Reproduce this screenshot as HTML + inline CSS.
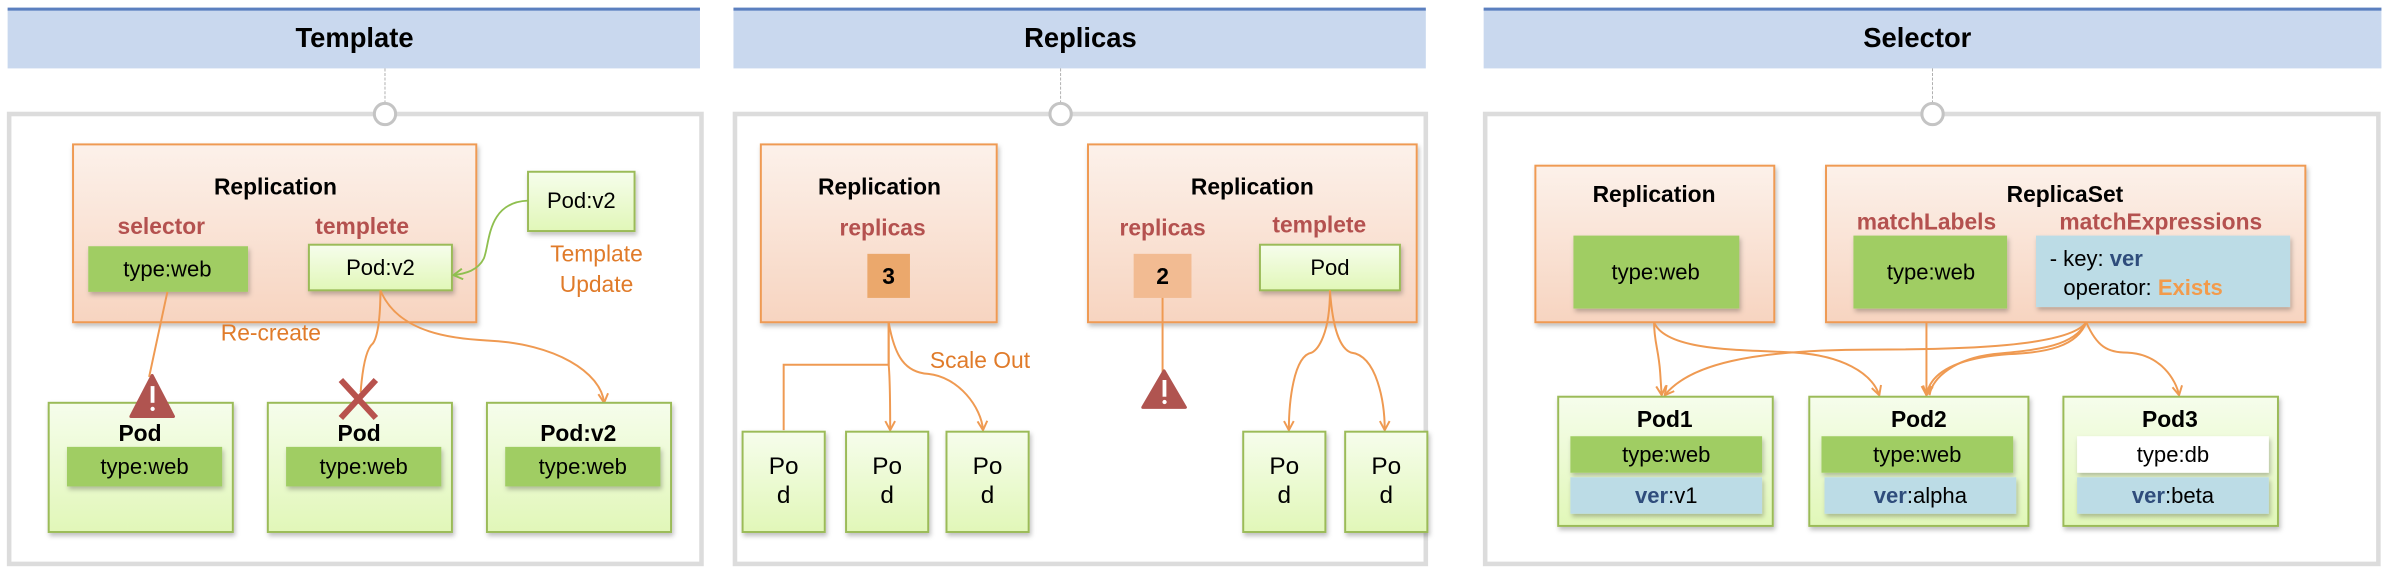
<!DOCTYPE html>
<html><head><meta charset="utf-8"><style>
html,body{margin:0;padding:0;background:#fff;}
svg{display:block;}
text{font-family:"Liberation Sans",sans-serif;}
.t{font-weight:bold;font-size:18px;text-anchor:middle;}
.h{font-weight:bold;font-size:15px;text-anchor:middle;}
.r{font-weight:bold;font-size:15px;fill:#b4514f;text-anchor:middle;}
.n{font-size:14.5px;text-anchor:middle;}
.o{font-size:15px;fill:#e07b2a;text-anchor:middle;}
.c{fill:none;stroke:#ef9a52;stroke-width:1.3;}
</style></head><body>
<svg width="2386" height="570" viewBox="0 0 1568 375" preserveAspectRatio="none" xmlns="http://www.w3.org/2000/svg">
<defs>
<linearGradient id="rep" x1="0" y1="0" x2="0" y2="1"><stop offset="0" stop-color="#fcf1ea"/><stop offset="1" stop-color="#f7d4c0"/></linearGradient>
<linearGradient id="pod" x1="0" y1="0" x2="0" y2="1"><stop offset="0" stop-color="#f6fdec"/><stop offset="1" stop-color="#e1f7b8"/></linearGradient>
<marker id="a" markerWidth="8" markerHeight="8" refX="7" refY="4" orient="auto" markerUnits="userSpaceOnUse"><path d="M1,0.8 L7,4 L1,7.2" fill="none" stroke="#ef9a52" stroke-width="1.3"/></marker>
<marker id="ag" markerWidth="8" markerHeight="8" refX="7" refY="4" orient="auto" markerUnits="userSpaceOnUse"><path d="M1,0.5 L7,4 L1,7.5" fill="none" stroke="#8fbf4f" stroke-width="1.3"/></marker>
<filter id="sh" x="-10%" y="-10%" width="130%" height="140%"><feDropShadow dx="1" dy="2" stdDeviation="1.5" flood-color="#000" flood-opacity="0.25"/></filter>
</defs>

<g>
<rect x="5" y="6" width="455" height="39" fill="#c9d8ee"/><rect x="5" y="5" width="455" height="2" fill="#5b7fbf"/>
<text class="t" x="233" y="31">Template</text>
<rect x="482" y="6" width="455" height="39" fill="#c9d8ee"/><rect x="482" y="5" width="455" height="2" fill="#5b7fbf"/>
<text class="t" x="710" y="31">Replicas</text>
<rect x="975" y="6" width="590" height="39" fill="#c9d8ee"/><rect x="975" y="5" width="590" height="2" fill="#5b7fbf"/>
<text class="t" x="1260" y="31">Selector</text>
</g>

<g fill="none" stroke="#dcdcdc" stroke-width="3">
<rect x="6" y="75" width="455" height="296"/>
<rect x="483" y="75" width="454" height="296"/>
<rect x="976" y="75" width="587" height="296"/>
</g>
<g stroke="#aaa" stroke-width="0.6" stroke-dasharray="2,1">
<line x1="253" y1="45" x2="253" y2="68"/><line x1="697" y1="45" x2="697" y2="68"/><line x1="1270" y1="45" x2="1270" y2="68"/>
</g>
<g fill="#fff" stroke="#c4c4c4" stroke-width="2">
<circle cx="253" cy="75" r="7"/><circle cx="697" cy="75" r="7"/><circle cx="1270" cy="75" r="7"/>
</g>

<!-- Panel 1 -->
<rect x="48" y="95" width="265" height="117" fill="url(#rep)" stroke="#ef9a52" stroke-width="1.3" filter="url(#sh)"/>
<text class="h" x="181" y="128">Replication</text>
<text class="r" x="106" y="154">selector</text>
<text class="r" x="238" y="154">templete</text>
<rect x="58" y="162" width="105" height="30" fill="#a0cd63" filter="url(#sh)"/>
<text class="n" x="110" y="182">type:web</text>
<rect x="203" y="161" width="94" height="30" fill="url(#pod)" stroke="#9bbb59" stroke-width="1.3" filter="url(#sh)"/>
<text class="n" x="250" y="181">Pod:v2</text>
<rect x="347" y="113" width="70" height="39" fill="url(#pod)" stroke="#9bbb59" stroke-width="1.3" filter="url(#sh)"/>
<text class="n" x="382" y="137">Pod:v2</text>
<text class="o" x="392" y="172">Template</text>
<text class="o" x="392" y="192">Update</text>
<path d="M347,132 C320,133 322,160 318,170 C314,178 306,180 298,181" fill="none" stroke="#8fbf4f" stroke-width="1.2" marker-end="url(#ag)"/>
<text class="o" x="178" y="224">Re-create</text>
<path class="c" d="M110,192 L98,248"/>
<path class="c" d="M250,191 C250,210 248,222 245,226 C240,230 238,245 237,258"/>
<path class="c" d="M250,191 C262,220 300,223 320,224 C365,226 395,245 397,265" marker-end="url(#a)"/>
<g filter="url(#sh)">
<rect x="32" y="265" width="121" height="85" fill="url(#pod)" stroke="#9bbb59" stroke-width="1.3"/>
<rect x="176" y="265" width="121" height="85" fill="url(#pod)" stroke="#9bbb59" stroke-width="1.3"/>
<rect x="320" y="265" width="121" height="85" fill="url(#pod)" stroke="#9bbb59" stroke-width="1.3"/>
</g>
<text class="h" x="92" y="290">Pod</text><text class="h" x="236" y="290">Pod</text><text class="h" x="380" y="290">Pod:v2</text>
<g filter="url(#sh)" fill="#a0cd63">
<rect x="44" y="294" width="102" height="26"/><rect x="188" y="294" width="102" height="26"/><rect x="332" y="294" width="102" height="26"/>
</g>
<text class="n" x="95" y="312">type:web</text><text class="n" x="239" y="312">type:web</text><text class="n" x="383" y="312">type:web</text>
<path d="M100,247 L114,274 L86,274 Z" fill="#b05450" stroke="#b05450" stroke-width="2" stroke-linejoin="round"/>
<rect x="99" y="254" width="2.5" height="11" fill="#fff"/><circle cx="100.3" cy="269" r="1.4" fill="#fff"/>
<path d="M224,250 L247,275 M247,250 L224,275" stroke="#b8524d" stroke-width="4"/>

<!-- Panel 2 -->
<rect x="500" y="95" width="155" height="117" fill="url(#rep)" stroke="#ef9a52" stroke-width="1.3" filter="url(#sh)"/>
<text class="h" x="578" y="128">Replication</text>
<text class="r" x="580" y="155">replicas</text>
<rect x="570" y="167" width="28" height="29" fill="#eba86c"/>
<text class="h" x="584" y="187">3</text>
<rect x="715" y="95" width="216" height="117" fill="url(#rep)" stroke="#ef9a52" stroke-width="1.3" filter="url(#sh)"/>
<text class="h" x="823" y="128">Replication</text>
<text class="r" x="764" y="155">replicas</text>
<text class="r" x="867" y="153">templete</text>
<rect x="745" y="167" width="38" height="29" fill="#f2bb92"/>
<text class="h" x="764" y="187">2</text>
<rect x="828" y="161" width="92" height="30" fill="url(#pod)" stroke="#9bbb59" stroke-width="1.3" filter="url(#sh)"/>
<text class="n" x="874" y="181">Pod</text>
<path class="c" d="M584,212 L584,240 L515,240 L515,283"/>
<path class="c" d="M584,212 L584,240 C585,250 585,265 585,283" marker-end="url(#a)"/>
<path class="c" d="M584,212 C588,235 595,245 610,246 C630,248 645,268 646,283" marker-end="url(#a)"/>
<text class="o" x="644" y="242">Scale Out</text>
<path class="c" d="M764,196 L764,246"/>
<path d="M765,244 L779,268 L751,268 Z" fill="#b05450" stroke="#b05450" stroke-width="2" stroke-linejoin="round"/>
<rect x="764" y="250" width="2.5" height="11" fill="#fff"/><circle cx="765.3" cy="264.5" r="1.4" fill="#fff"/>
<path class="c" d="M874,191 C874,220 866,230 862,232 C850,234 847,265 847,283" marker-end="url(#a)"/>
<path class="c" d="M874,191 C876,220 882,230 888,232 C905,234 910,265 910,283" marker-end="url(#a)"/>
<g filter="url(#sh)">
<rect x="488" y="284" width="54" height="66" fill="url(#pod)" stroke="#9bbb59" stroke-width="1.3"/>
<rect x="556" y="284" width="54" height="66" fill="url(#pod)" stroke="#9bbb59" stroke-width="1.3"/>
<rect x="622" y="284" width="54" height="66" fill="url(#pod)" stroke="#9bbb59" stroke-width="1.3"/>
<rect x="817" y="284" width="54" height="66" fill="url(#pod)" stroke="#9bbb59" stroke-width="1.3"/>
<rect x="884" y="284" width="54" height="66" fill="url(#pod)" stroke="#9bbb59" stroke-width="1.3"/>
</g>
<g style="font-size:16px">
<text class="n" style="font-size:16px" x="515" y="312">Po</text><text class="n" style="font-size:16px" x="515" y="331">d</text>
<text class="n" style="font-size:16px" x="583" y="312">Po</text><text class="n" style="font-size:16px" x="583" y="331">d</text>
<text class="n" style="font-size:16px" x="649" y="312">Po</text><text class="n" style="font-size:16px" x="649" y="331">d</text>
<text class="n" style="font-size:16px" x="844" y="312">Po</text><text class="n" style="font-size:16px" x="844" y="331">d</text>
<text class="n" style="font-size:16px" x="911" y="312">Po</text><text class="n" style="font-size:16px" x="911" y="331">d</text>
</g>

<!-- Panel 3 -->
<rect x="1009" y="109" width="157" height="103" fill="url(#rep)" stroke="#ef9a52" stroke-width="1.3" filter="url(#sh)"/>
<text class="h" x="1087" y="133">Replication</text>
<rect x="1034" y="155" width="109" height="48" fill="#a0cd63" filter="url(#sh)"/>
<text class="n" x="1088" y="184">type:web</text>
<rect x="1200" y="109" width="315" height="103" fill="url(#rep)" stroke="#ef9a52" stroke-width="1.3" filter="url(#sh)"/>
<text class="h" x="1357" y="133">ReplicaSet</text>
<text class="r" x="1266" y="151">matchLabels</text>
<text class="r" x="1420" y="151">matchExpressions</text>
<rect x="1218" y="155" width="101" height="48" fill="#a0cd63" filter="url(#sh)"/>
<text class="n" x="1269" y="184">type:web</text>
<rect x="1338" y="155" width="167" height="47" fill="#bcdce6" filter="url(#sh)"/>
<text x="1347" y="175" style="font-size:14.5px">- key: <tspan fill="#2f4d7c" font-weight="bold">ver</tspan></text>
<text x="1356" y="194" style="font-size:14.5px">operator: <tspan fill="#f29b4c" font-weight="bold">Exists</tspan></text>
<path class="c" d="M1087,212 C1087,225 1090,230 1091,245 L1092,260" marker-end="url(#a)"/>
<path class="c" d="M1087,212 C1095,232 1150,230 1180,232 C1210,234 1230,245 1235,260" marker-end="url(#a)"/>
<path class="c" d="M1266,212 L1266,260" marker-end="url(#a)"/>
<path class="c" d="M1371,212 C1360,228 1290,230 1230,230 C1150,230 1110,240 1094,260" marker-end="url(#a)"/>
<path class="c" d="M1371,212 C1365,228 1345,232 1320,233 C1280,236 1268,248 1266,260" marker-end="url(#a)"/>
<path class="c" d="M1371,212 C1363,228 1340,230 1310,233 C1285,236 1270,248 1268,260"/>
<path class="c" d="M1371,212 C1378,228 1385,232 1398,232 C1420,233 1430,250 1432,260" marker-end="url(#a)"/>
<g filter="url(#sh)">
<rect x="1024" y="261" width="141" height="85" fill="url(#pod)" stroke="#9bbb59" stroke-width="1.3"/>
<rect x="1189" y="261" width="144" height="85" fill="url(#pod)" stroke="#9bbb59" stroke-width="1.3"/>
<rect x="1356" y="261" width="141" height="85" fill="url(#pod)" stroke="#9bbb59" stroke-width="1.3"/>
</g>
<text class="h" x="1094" y="281">Pod1</text><text class="h" x="1261" y="281">Pod2</text><text class="h" x="1426" y="281">Pod3</text>
<g filter="url(#sh)">
<rect x="1032" y="287" width="126" height="24" fill="#a0cd63"/>
<rect x="1197" y="287" width="126" height="24" fill="#a0cd63"/>
<rect x="1365" y="287" width="126" height="24" fill="#fff"/>
<rect x="1032" y="314" width="126" height="24" fill="#bcdce6"/>
<rect x="1199" y="314" width="126" height="24" fill="#bcdce6"/>
<rect x="1365" y="314" width="126" height="24" fill="#bcdce6"/>
</g>
<text class="n" x="1095" y="304">type:web</text><text class="n" x="1260" y="304">type:web</text><text class="n" x="1428" y="304">type:db</text>
<text class="n" x="1095" y="331"><tspan fill="#2f4d7c" font-weight="bold">ver</tspan>:v1</text>
<text class="n" x="1262" y="331"><tspan fill="#2f4d7c" font-weight="bold">ver</tspan>:alpha</text>
<text class="n" x="1428" y="331"><tspan fill="#2f4d7c" font-weight="bold">ver</tspan>:beta</text>
</svg>
</body></html>
